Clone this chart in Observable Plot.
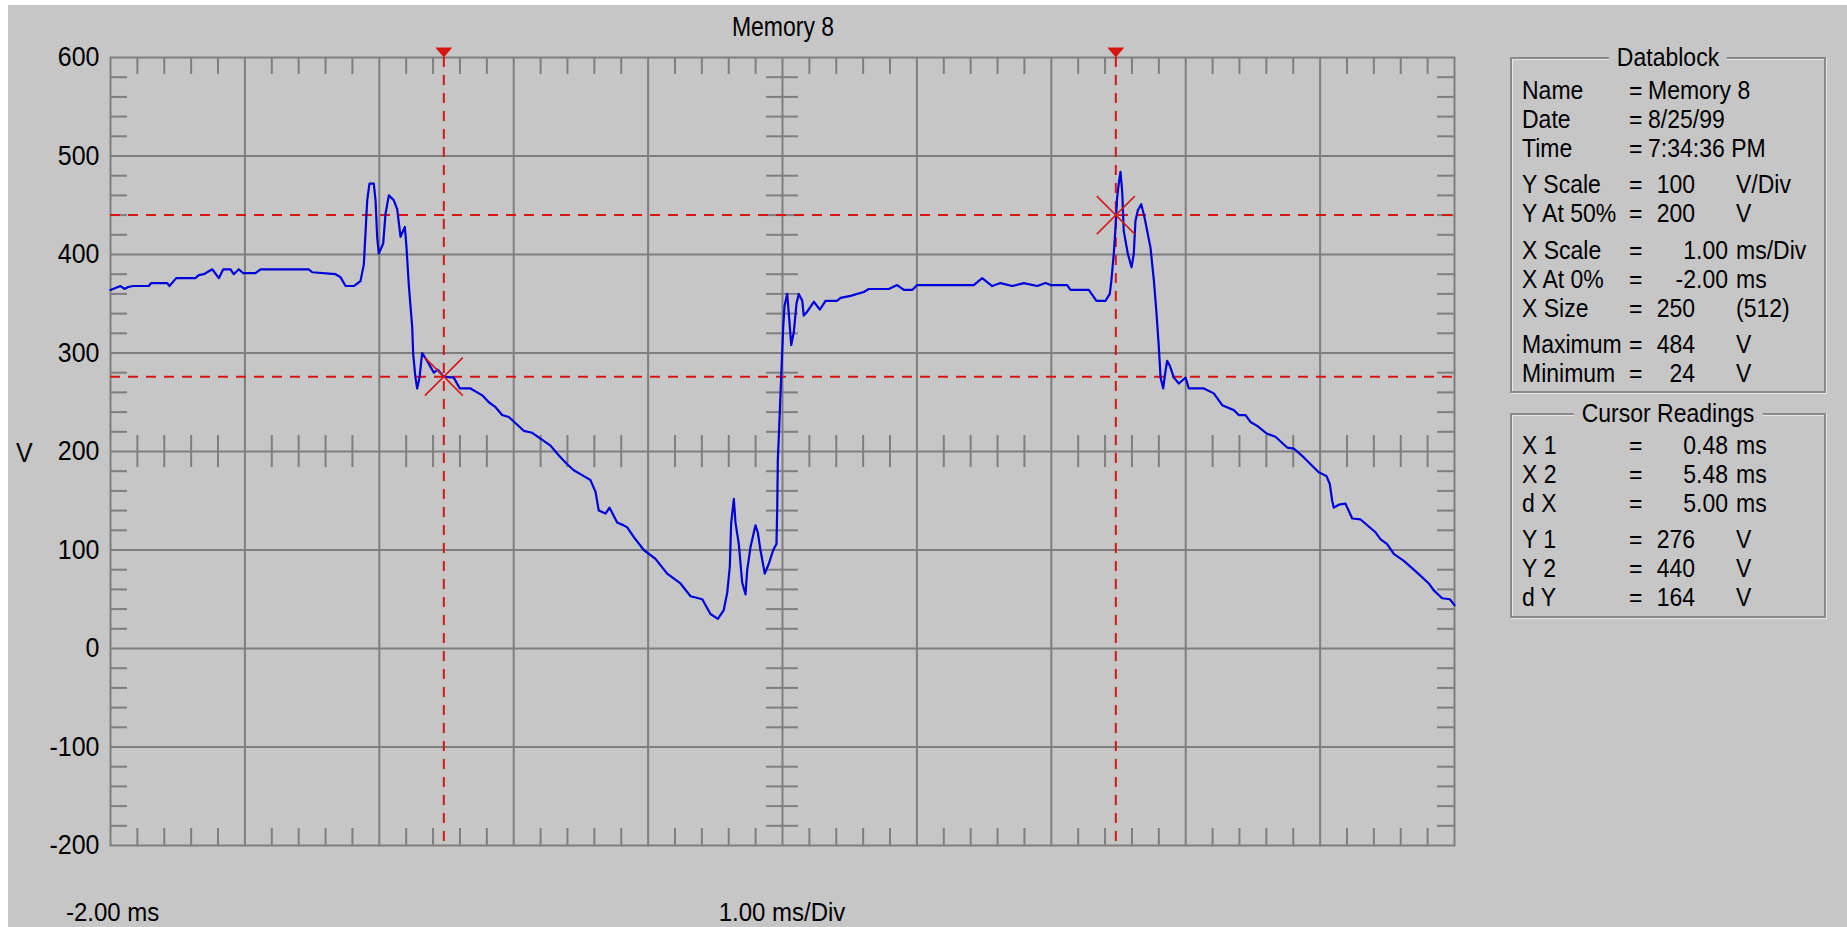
<!DOCTYPE html>
<html>
<head>
<meta charset="utf-8">
<script src="https://cdn.jsdelivr.net/npm/d3@7"></script>
<script src="https://cdn.jsdelivr.net/npm/@observablehq/plot@0.6"></script>
<style>
  html, body { margin: 0; padding: 0; background: #ffffff; overflow: hidden; width: 1847px; height: 927px; }
  #panel { position: absolute; left: 8px; top: 5px; right: 0; bottom: 0; background: #c6c6c6; }
  #chart { position: absolute; left: 0; top: 0; width: 1847px; height: 927px; }
  .t { position: absolute; font-family: "Liberation Sans", Arial, sans-serif; color: #000; white-space: nowrap; }
  .box { position: absolute; box-sizing: border-box; border: 2px solid #8a8a8a; box-shadow: inset 1px 1px 0 #e8e8e8, 1px 1px 0 #e8e8e8; }
  .legend { background: #c6c6c6; padding: 0 8px; }
</style>
</head>
<body>
<div id="panel"></div>
<div id="chart"></div>
<div id="overlay"></div>
<script>
// ---------------- data ----------------
const title = "Memory 8";
const yAxisLabel = "V";
const xStartLabel = "-2.00 ms";
const xScaleLabel = "1.00 ms/Div";

const xDomain = [-2, 8];          // ms
const yDomain = [-200, 600];      // V
const xMajor = [-1, 0, 1, 2, 3, 4, 5, 6, 7];
const yMajor = [-100, 0, 100, 200, 300, 400, 500];
const yTickLabels = [600, 500, 400, 300, 200, 100, 0, -100, -200];
const centerX = 3;     // ms, centre graticule line
const centerY = 200;   // V, centre graticule line

// waveform (time in ms, voltage in V)
const waveT = [-2.000,-1.926,-1.896,-1.868,-1.831,-1.715,-1.697,-1.578,-1.561,-1.511,
  -1.368,-1.343,-1.306,-1.243,-1.194,-1.161,-1.107,-1.083,-1.045,-1.013,
  -0.921,-0.884,-0.525,-0.499,-0.326,-0.289,-0.251,-0.190,-0.140,-0.115,
  -0.103,-0.090,-0.073,-0.041,-0.028,-0.016,-0.004,0.029,0.046,0.071,
  0.108,0.133,0.158,0.190,0.202,0.220,0.245,0.252,0.269,0.282,
  0.299,0.319,0.356,0.406,0.435,0.480,0.554,0.599,0.679,0.766,
  0.815,0.865,0.914,0.964,1.075,1.138,1.199,1.274,1.336,1.398,
  1.447,1.522,1.571,1.609,1.633,1.683,1.713,1.770,1.819,1.845,
  1.894,1.968,2.055,2.142,2.241,2.316,2.403,2.464,2.519,2.563,
  2.589,2.608,2.618,2.638,2.650,2.675,2.700,2.725,2.737,2.762,
  2.787,2.799,2.816,2.836,2.868,2.898,2.931,2.955,2.961,2.965,
  2.972,2.990,3.005,3.015,3.035,3.047,3.065,3.084,3.104,3.121,
  3.147,3.158,3.179,3.233,3.278,3.320,3.407,3.432,3.506,3.605,
  3.642,3.791,3.853,3.903,3.965,4.002,4.423,4.486,4.560,4.622,
  4.709,4.795,4.895,4.957,4.994,5.118,5.143,5.279,5.336,5.403,
  5.435,5.446,5.465,5.478,5.490,5.502,5.515,5.528,5.539,5.569,
  5.597,5.614,5.626,5.644,5.669,5.693,5.738,5.763,5.783,5.800,
  5.813,5.833,5.850,5.862,5.882,5.912,5.949,5.999,6.023,6.135,
  6.209,6.272,6.358,6.395,6.445,6.482,6.532,6.606,6.668,6.755,
  6.804,6.879,6.990,7.048,7.072,7.090,7.102,7.139,7.189,7.239,
  7.301,7.412,7.449,7.499,7.548,7.623,7.722,7.809,7.846,7.908,
  7.965,8.000];
const waveV = [364,368,365,367,368,368,371,371,368,376,
  376,379,380,385,376,385,385,380,385,381,
  381,385,385,382,380,377,368,368,373,390,
  421,455,472,472,455,418,401,411,441,460,
  455,446,418,428,408,368,326,299,275,264,
  275,300,292,280,283,276,275,264,264,257,
  250,245,237,235,221,219,213,206,196,187,
  181,175,171,159,140,137,143,128,125,123,
  113,100,91,76,66,53,50,35,30,39,
  57,83,127,152,128,106,67,55,79,103,
  118,125,118,100,76,86,100,106,143,191,
  213,275,326,348,360,340,308,321,350,360,
  353,338,341,352,344,353,353,356,358,362,
  365,365,369,364,364,369,369,376,368,371,
  368,371,368,371,369,369,364,364,353,353,
  360,372,401,428,458,472,484,463,424,401,
  387,401,434,445,451,438,407,374,340,306,
  275,264,282,292,287,275,269,275,264,264,
  259,247,242,237,237,230,226,218,215,204,
  203,194,179,175,167,150,143,146,147,132,
  131,118,111,106,96,89,77,66,59,51,
  50,44];

// cursors
const cursorX = [0.48, 5.48];
const cursorY = [276, 440];

// datablock
const dbTitle = "Datablock";
const dbLabels = ["Name", "Date", "Time", "Y Scale", "Y At 50%", "X Scale", "X At 0%", "X Size", "Maximum", "Minimum"];
const dbValues = ["Memory 8", "8/25/99", "7:34:36 PM", "100", "200", "1.00", "-2.00", "250", "484", "24"];
const dbUnits  = ["", "", "", "V/Div", "V", "ms/Div", "ms", "(512)", "V", "V"];
const crTitle = "Cursor Readings";
const crLabels = ["X 1", "X 2", "d X", "Y 1", "Y 2", "d Y"];
const crValues = ["0.48", "5.48", "5.00", "276", "440", "164"];
const crUnits  = ["ms", "ms", "ms", "V", "V", "V"];

// ---------------- chart ----------------
const grid = "#7e7e7e";
const red = "#d81414";
const blue = "#0000dc";

const wave = waveT.map((t, i) => ({t, v: waveV[i]}));
const cursorPts = cursorX.map((t, i) => ({t, v: cursorY[i]}));
const xMinor = d3.range(1, 50).filter(i => i % 5 !== 0).map(i => xDomain[0] + i * 0.2);
const yMinor = d3.range(1, 40).filter(i => i % 5 !== 0).map(i => yDomain[0] + i * 20);

const crossSymbol = { draw(ctx) { ctx.moveTo(-19, -19); ctx.lineTo(19, 19); ctx.moveTo(-19, 19); ctx.lineTo(19, -19); } };
const triSymbol = { draw(ctx) { ctx.moveTo(-8.5, -10); ctx.lineTo(8.5, -10); ctx.lineTo(0, 0); ctx.closePath(); } };

const tickStyle = {stroke: grid, strokeWidth: 2};

const svg = Plot.plot({
  width: 1847,
  height: 927,
  marginLeft: 110,
  marginRight: 393,
  marginTop: 57,
  marginBottom: 82,
  style: {background: "transparent", maxWidth: "none", fontFamily: "'Liberation Sans', Arial, sans-serif", overflow: "visible"},
  x: {domain: xDomain, axis: null},
  y: {domain: yDomain, axis: null},
  marks: [
    Plot.ruleX(xMajor, {stroke: grid, strokeWidth: 2}),
    Plot.ruleY(yMajor, {stroke: grid, strokeWidth: 2}),
    // border minor ticks
    Plot.ruleX(xMinor, {x: d => d, y1: yDomain[1], y2: yDomain[1], insetBottom: -17, ...tickStyle}),
    Plot.ruleX(xMinor, {x: d => d, y1: yDomain[0], y2: yDomain[0], insetTop: -17, ...tickStyle}),
    Plot.ruleY(yMinor, {y: d => d, x1: xDomain[0], x2: xDomain[0], insetRight: -17, ...tickStyle}),
    Plot.ruleY(yMinor, {y: d => d, x1: xDomain[1], x2: xDomain[1], insetLeft: -17, ...tickStyle}),
    // centre graticule ticks
    Plot.ruleX(xMinor, {x: d => d, y1: centerY, y2: centerY, insetTop: -16, insetBottom: -16, ...tickStyle}),
    Plot.ruleY(yMinor, {y: d => d, x1: centerX, x2: centerX, insetLeft: -16, insetRight: -16, ...tickStyle}),
    Plot.frame({stroke: grid, strokeWidth: 2}),
    // cursors
    Plot.ruleX(cursorX, {stroke: red, strokeWidth: 2, strokeDasharray: "10,8"}),
    Plot.ruleY(cursorY, {stroke: red, strokeWidth: 2, strokeDasharray: "10,8"}),
    // waveform
    Plot.line(wave, {x: "t", y: "v", stroke: blue, strokeWidth: 2.2, strokeLinejoin: "round"}),
    Plot.dot(cursorPts, {x: "t", y: "v", symbol: crossSymbol, stroke: red, strokeWidth: 1.5, fill: "none"}),
    Plot.dot(cursorX, {x: d => d, y: yDomain[1], symbol: triSymbol, fill: red, stroke: "none"}),
    // y tick labels
    Plot.text(yTickLabels, {x: xDomain[0], y: d => d, text: d => String(d), textAnchor: "end", dx: -11, fontSize: 25, fill: "#000"})
  ]
});
// slightly taller glyphs, like the original bitmap font
d3.select(svg).selectAll("g[aria-label='text'] text").each(function () {
  const tr = this.getAttribute("transform");
  if (tr) this.setAttribute("transform", tr + " scale(1,1.12)");
});
document.getElementById("chart").appendChild(svg);

// ---------------- text overlays ----------------
const overlay = document.getElementById("overlay");
function addText(txt, x, cy, size, anchor = "start", cls = "", sy = 1.1) {
  const d = document.createElement("div");
  d.className = "t " + cls;
  d.textContent = txt;
  d.style.left = x + "px";
  d.style.top = (cy - size / 2) + "px";
  d.style.fontSize = size + "px";
  d.style.lineHeight = size + "px";
  const tx = anchor === "end" ? "translateX(-100%)" : anchor === "middle" ? "translateX(-50%)" : "";
  d.style.transform = tx + " scaleY(" + sy + ")";
  overlay.appendChild(d);
  return d;
}
function addBox(left, top, right, bottom) {
  const b = document.createElement("div");
  b.className = "box";
  b.style.left = left + "px";
  b.style.top = top + "px";
  b.style.width = (right - left) + "px";
  b.style.height = (bottom - top) + "px";
  overlay.appendChild(b);
}

addText(title, 783, 27, 23, "middle", "", 1.18);
addText(yAxisLabel, 16, 452, 25);
addText(xStartLabel, 66, 912, 24);
addText(xScaleLabel, 782, 912, 24, "middle");

// panel layout
const boxL = 1510, boxR = 1826;
const fs = 23;
function rowsY(startY, groups) {
  const ys = [];
  let y = startY;
  groups.forEach((n) => {
    for (let k = 0; k < n; k++) { ys.push(y); y += 29; }
    y += 7.5;
  });
  return ys;
}
function drawRows(labels, values, units, ys) {
  labels.forEach((lab, i) => {
    const y = ys[i];
    addText(lab, 1522, y, fs);
    addText("=", 1629, y, fs);
    const u = units[i];
    if (u === "") {
      addText(values[i], 1648, y, fs);
    } else if (u.startsWith("ms")) {
      addText(values[i], 1728, y, fs, "end");
      addText(u, 1736, y, fs);
    } else {
      addText(values[i], 1695, y, fs, "end");
      addText(u, 1736, y, fs);
    }
  });
}

addBox(boxL, 57, boxR, 393);
addText(dbTitle, (boxL + boxR) / 2, 57, fs, "middle", "legend");
drawRows(dbLabels, dbValues, dbUnits, rowsY(90, [3, 2, 3, 2]));

addBox(boxL, 413, boxR, 618);
addText(crTitle, (boxL + boxR) / 2, 413, fs, "middle", "legend");
drawRows(crLabels, crValues, crUnits, rowsY(445, [3, 3]));
</script>
</body>
</html>
